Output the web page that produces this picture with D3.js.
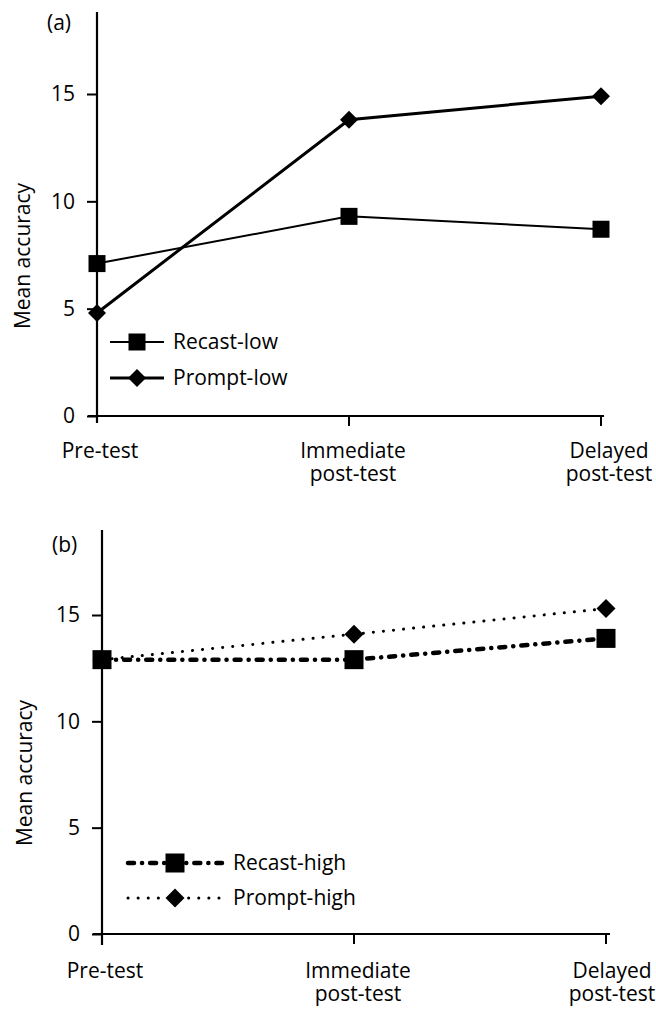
<!DOCTYPE html>
<html>
<head>
<meta charset="utf-8">
<script src="https://cdn.jsdelivr.net/npm/d3@7"></script>
<style>
  body { margin: 0; background: #fff; }
  svg { display: block; }
  text { font-family: "Open Sans", sans-serif; fill: #000; }
</style>
</head>
<body>
<div id="chart"></div>
<script>
// data
var categories = ["Pre-test", "Immediate post-test", "Delayed post-test"];
var categoryLines = [["Pre-test"], ["Immediate", "post-test"], ["Delayed", "post-test"]];
var yTicks = [0, 5, 10, 15];

var recastLow = [7.1, 9.3, 8.7];
var promptLow = [4.8, 13.8, 14.9];
var recastHigh = [12.9, 12.9, 13.9];
var promptHigh = [12.9, 14.1, 15.3];

var width = 656, height = 1009;

var svg = d3.select("#chart").append("svg")
  .attr("width", width)
  .attr("height", height);

svg.append("rect").attr("width", width).attr("height", height).attr("fill", "#fff");

function marker(g, shape, size, x, y) {
  if (shape === "square") {
    g.append("rect")
      .attr("x", x - size / 2).attr("y", y - size / 2)
      .attr("width", size).attr("height", size)
      .attr("fill", "#000");
  } else {
    var s = size / Math.SQRT2;
    g.append("rect")
      .attr("x", -s / 2).attr("y", -s / 2)
      .attr("width", s).attr("height", s)
      .attr("fill", "#000")
      .attr("transform", "translate(" + x + "," + y + ") rotate(45)");
  }
}

function drawPanel(p) {
  var g = svg.append("g");

  var x = d3.scalePoint().domain(categories).range([p.x0, p.x1]);
  var y = d3.scaleLinear().domain([0, 15]).range([p.y0, p.y15]);

  // y axis (ticks + labels)
  var yAxis = g.append("g")
    .attr("transform", "translate(" + p.x0 + ",0)")
    .call(d3.axisLeft(y).tickValues(yTicks).tickSize(10).tickPadding(12));
  yAxis.select(".domain").remove();
  yAxis.selectAll("line").attr("stroke", "#000").attr("stroke-width", 2);
  yAxis.selectAll("text").attr("font-size", 21).attr("font-family", "Open Sans").attr("fill", "#000");

  // axis lines
  g.append("line")
    .attr("x1", p.x0).attr("x2", p.x0)
    .attr("y1", p.axisTop).attr("y2", p.y0 + p.yAxisBelow)
    .attr("stroke", "#000").attr("stroke-width", 2.2);
  g.append("line")
    .attr("x1", p.x0 - p.xAxisLeft).attr("x2", p.xEnd)
    .attr("y1", p.y0).attr("y2", p.y0)
    .attr("stroke", "#000").attr("stroke-width", 2);

  // x ticks
  g.selectAll(".xtick").data(categories.slice(1)).enter().append("line")
    .attr("x1", function(d) { return x(d); }).attr("x2", function(d) { return x(d); })
    .attr("y1", p.y0).attr("y2", p.y0 + 10)
    .attr("stroke", "#000").attr("stroke-width", 2);

  // x labels
  categories.forEach(function(c, i) {
    var lx = x(c) + p.labelShift[i];
    var t = g.append("text")
      .attr("text-anchor", "middle")
      .attr("font-size", 21)
      .attr("x", lx)
      .attr("y", p.y0 + p.labelOffset);
    categoryLines[i].forEach(function(line, j) {
      t.append("tspan").attr("x", lx).attr("dy", j === 0 ? 0 : 23).text(line);
    });
  });

  // y title
  g.append("text")
    .attr("transform", "translate(" + p.titleX + "," + p.titleY + ") rotate(-90)")
    .attr("text-anchor", "middle")
    .attr("font-size", 21)
    .text("Mean accuracy");

  // panel letter
  g.append("text")
    .attr("x", p.letterX).attr("y", p.letterY)
    .attr("font-size", 21)
    .text(p.letter);

  var line = d3.line()
    .x(function(d, i) { return x(categories[i]); })
    .y(function(d) { return y(d); });

  p.series.forEach(function(s) {
    g.append("path")
      .datum(s.values)
      .attr("d", line)
      .attr("fill", "none")
      .attr("stroke", "#000")
      .attr("stroke-width", s.width)
      .attr("stroke-dasharray", s.dash || null)
      .attr("stroke-linecap", s.cap || "butt");
    s.values.forEach(function(v, i) {
      marker(g, s.shape, s.size, x(categories[i]), y(v));
    });
  });

  // legend
  p.series.slice().reverse().forEach(function(s, k) {
    var ly = p.legendY[k];
    g.append("line")
      .attr("x1", p.legendX0).attr("x2", p.legendX1)
      .attr("y1", ly).attr("y2", ly)
      .attr("stroke", "#000")
      .attr("stroke-width", s.width)
      .attr("stroke-dasharray", s.dash || null)
      .attr("stroke-linecap", s.cap || "butt");
    marker(g, s.shape, s.size, (p.legendX0 + p.legendX1) / 2, ly);
    g.append("text")
      .attr("x", p.legendTextX).attr("y", ly + 7)
      .attr("font-size", 21)
      .text(s.name);
  });
}

drawPanel({
  letter: "(a)", letterX: 47, letterY: 30,
  x0: 97, x1: 601, xEnd: 604, xAxisLeft: 9, yAxisBelow: 7,
  y0: 416, y15: 94, axisTop: 12,
  labelOffset: 42, labelShift: [3, 4, 8], titleX: 30, titleY: 256,
  legendX0: 110, legendX1: 164, legendTextX: 173, legendY: [342, 378],
  series: [
    { name: "Prompt-low", values: promptLow, shape: "diamond", size: 18, width: 3 },
    { name: "Recast-low", values: recastLow, shape: "square", size: 17, width: 2 }
  ]
});

drawPanel({
  letter: "(b)", letterX: 52, letterY: 552,
  x0: 102, x1: 606, xEnd: 610, xAxisLeft: 9, yAxisBelow: 11,
  y0: 934, y15: 615, axisTop: 530,
  labelOffset: 44, labelShift: [3, 4, 6], titleX: 32, titleY: 773,
  legendX0: 128, legendX1: 222, legendTextX: 233, legendY: [863, 898],
  series: [
    { name: "Prompt-high", values: promptHigh, shape: "diamond", size: 19, width: 3, dash: "0.1,10", cap: "round" },
    { name: "Recast-high", values: recastHigh, shape: "square", size: 19, width: 4.5, dash: "6,8,0.1,8", cap: "round" }
  ]
});
</script>
</body>
</html>
